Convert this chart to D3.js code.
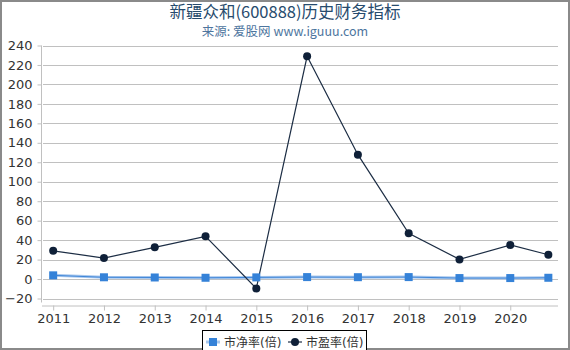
<!DOCTYPE html>
<html>
<head>
<meta charset="utf-8">
<script src="https://cdn.jsdelivr.net/npm/d3@7"></script>
<style>
  body { margin: 0; background: #fff; }
  text { font-family: "DejaVu Sans", "Noto Sans CJK SC", sans-serif; }
</style>
</head>
<body>
<div id="chart"></div>
<script>
// chart data
var years = [2011, 2012, 2013, 2014, 2015, 2016, 2017, 2018, 2019, 2020, 2020.75];
var tickYears = [2011, 2012, 2013, 2014, 2015, 2016, 2017, 2018, 2019, 2020];
var pbValues = [3.8, 1.8, 1.6, 1.3, 1.7, 2.0, 1.9, 2.0, 1.0, 1.0, 1.3];
var peValues = [29.0, 21.6, 32.6, 43.9, -9.6, 228.9, 127.8, 47.0, 20.2, 35.0, 25.0];
var yTicks = [-20, 0, 20, 40, 60, 80, 100, 120, 140, 160, 180, 200, 220, 240];
var seriesNames = ["市净率(倍)", "市盈率(倍)"];

var w = 570, h = 350;
var plotLeft = 42, plotRight = 558, plotTop = 45.5, plotBottom = 298.5;

var svg = d3.select("#chart").append("svg")
  .attr("width", w).attr("height", h);

// outer frame
svg.append("rect")
  .attr("x", 1).attr("y", 1).attr("width", w - 2).attr("height", h - 2)
  .attr("fill", "#fff").attr("stroke", "#8a8a8a").attr("stroke-width", 2);

// scales
var x = d3.scaleLinear().domain([2010.78, 2020.94]).range([plotLeft, plotRight]);
var y = d3.scaleLinear().domain([-20, 240]).range([plotBottom, plotTop]);

// grid lines
svg.append("g").selectAll("line")
  .data(yTicks).enter().append("line")
  .attr("x1", plotLeft + 1).attr("x2", plotRight)
  .attr("y1", function(d) { return Math.round(y(d)) + 0.5; })
  .attr("y2", function(d) { return Math.round(y(d)) + 0.5; })
  .attr("stroke", "#c0c0c0").attr("stroke-width", 1);

// y axis
var yAxis = d3.axisLeft(y).tickValues(yTicks).tickSize(4).tickPadding(5);
var gy = svg.append("g")
  .attr("transform", "translate(" + (plotLeft - 0.5) + ",0)")
  .call(yAxis);
gy.select(".domain").attr("stroke", "#c0c0c0").attr("d", "M0," + plotTop + "V" + (plotBottom + 4));
gy.selectAll(".tick line").attr("stroke", "#c0c0c0");
gy.selectAll(".tick text").attr("fill", "#333").style("font-size", "13px");

// x axis
var xAxis = d3.axisBottom(x).tickValues(tickYears).tickFormat(d3.format("d")).tickSize(5).tickPadding(3);
var gx = svg.append("g")
  .attr("transform", "translate(0," + (plotBottom + 7) + ")")
  .call(xAxis);
gx.select(".domain").attr("stroke", "#c0c0c0").attr("d", "M" + plotLeft + ",0.5H" + plotRight);
gx.selectAll(".tick line").attr("stroke", "#c0c0c0");
gx.selectAll(".tick text").attr("fill", "#333").style("font-size", "13px");

// lines
var line = d3.line()
  .x(function(d, i) { return x(years[i]); })
  .y(function(d) { return y(d); });

// light halo under the pb line
svg.append("path")
  .datum(pbValues)
  .attr("d", line)
  .attr("fill", "none")
  .attr("stroke", "#a9c8ee").attr("stroke-width", 3);

svg.append("path")
  .datum(pbValues)
  .attr("d", line)
  .attr("fill", "none")
  .attr("stroke", "#3f86d8").attr("stroke-width", 1);

svg.append("path")
  .datum(peValues)
  .attr("d", line)
  .attr("fill", "none")
  .attr("stroke", "#1c2d44").attr("stroke-width", 1.2);

// markers
svg.append("g").selectAll("rect")
  .data(pbValues).enter().append("rect")
  .attr("x", function(d, i) { return x(years[i]) - 4; })
  .attr("y", function(d) { return y(d) - 4; })
  .attr("width", 8).attr("height", 8)
  .attr("fill", "#3582d8");

svg.append("g").selectAll("circle")
  .data(peValues).enter().append("circle")
  .attr("cx", function(d, i) { return x(years[i]); })
  .attr("cy", function(d) { return y(d); })
  .attr("r", 4)
  .attr("fill", "#0f2038");

// title
svg.append("text")
  .attr("x", 285).attr("y", 17.5)
  .attr("text-anchor", "middle")
  .attr("fill", "#274b6d")
  .style("font-size", "16.5px")
  .style("font-family", "'Noto Sans CJK SC', sans-serif")
  .text("新疆众和(600888)历史财务指标");

svg.append("text")
  .attr("x", 285).attr("y", 35.5)
  .attr("text-anchor", "middle")
  .attr("fill", "#4d759e")
  .style("font-size", "12.5px")
  .style("font-family", "'Noto Sans CJK SC', sans-serif")
  .text("来源: 爱股网 www.iguuu.com");

// legend
var legend = svg.append("g");
legend.append("rect")
  .attr("x", 202.5).attr("y", 330.5).attr("width", 164).attr("height", 24)
  .attr("fill", "#fff").attr("stroke", "#000").attr("stroke-width", 1);

var lg1 = legend.append("g").attr("transform", "translate(206,342)");
lg1.append("line").attr("x1", 0).attr("x2", 14).attr("y1", 0).attr("y2", 0)
  .attr("stroke", "#a9c8ee").attr("stroke-width", 3);
lg1.append("rect").attr("x", 3).attr("y", -4).attr("width", 8).attr("height", 8).attr("fill", "#3582d8");
lg1.append("text").attr("x", 18).attr("y", 4.5).attr("fill", "#333")
  .style("font-size", "12px").text(seriesNames[0]);

var lg2 = legend.append("g").attr("transform", "translate(288,342)");
lg2.append("line").attr("x1", 0).attr("x2", 14).attr("y1", 0).attr("y2", 0)
  .attr("stroke", "#1c2d44").attr("stroke-width", 1.2);
lg2.append("circle").attr("cx", 7).attr("cy", 0).attr("r", 4).attr("fill", "#0f2038");
lg2.append("text").attr("x", 18).attr("y", 4.5).attr("fill", "#333")
  .style("font-size", "12px").text(seriesNames[1]);
</script>
</body>
</html>
